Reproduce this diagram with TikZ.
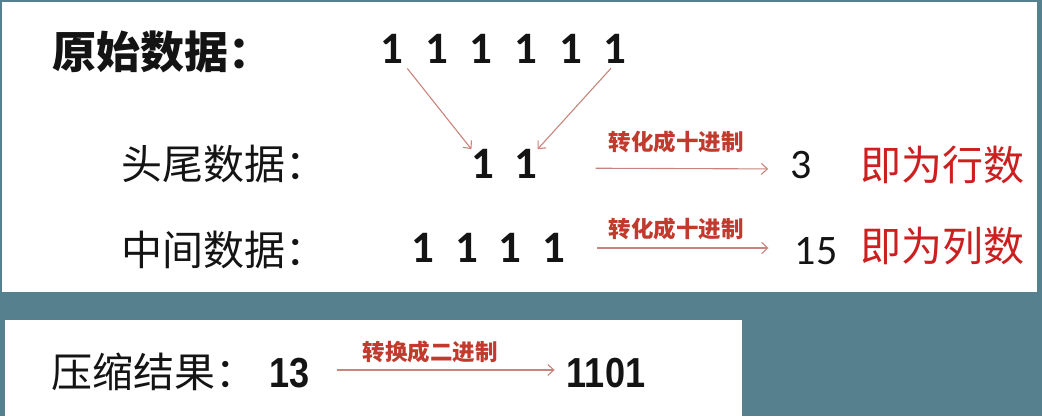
\documentclass[tikz,border=0pt]{standalone}
\usepackage{fontspec}
\setmainfont{Carlito}
\newfontfamily\cjk{Noto Sans CJK SC}
\newfontfamily\numfont[FakeStretch=0.86]{Liberation Sans}
\usetikzlibrary{arrows.meta}

\definecolor{slate}{HTML}{57808F}
\definecolor{arrowred}{HTML}{C8857C}
\definecolor{tagred}{HTML}{C23A2E}
\definecolor{notered}{HTML}{CC2020}

\begin{document}
\begin{tikzpicture}[x=1pt,y=-1pt]
      \tikzset{
        node distance=44.6pt,
        every node/.style={inner sep=0pt,text=black!92},
        heading/.style={anchor=west,font=\cjk\bfseries\fontsize{44}{44}\selectfont},
        title/.style={anchor=west,font=\cjk\fontsize{41}{41}\selectfont},
        note/.style={anchor=west,font=\cjk\fontsize{41}{41}\selectfont,text=notered},
        tag/.style={font=\cjk\bfseries\fontsize{22.5}{22.5}\selectfont,text=tagred},
        bit/.style={font=\bfseries\fontsize{45}{45}\selectfont},
        plain/.style={font=\fontsize{42}{42}\selectfont},
        num/.style={font=\numfont\bfseries\fontsize{42}{42}\selectfont},
        conv/.style={draw=arrowred,line width=1.1pt,-{Straight Barb[length=6pt,width=11pt]}}
      }

      \fill[slate] (0,0) rectangle (1042,416);
      \fill[white] (2,1.5) rectangle (1037,292);
      \fill[white] (5,320) rectangle (742,416);

      \node[heading] (orig) at (52,52) {原始数据：};
      \node[bit] (b1) at (392,49) {1};
      \node[bit,right of=b1] (b2) {1};
      \node[bit,right of=b2] (b3) {1};
      \node[bit,right of=b3] (b4) {1};
      \node[bit,right of=b4] (b5) {1};
      \node[bit,right of=b5] (b6) {1};

      \node[title] (head) at (121,164) {头尾数据：};
      \node[bit] (h1) at (483,164) {1};
      \node[bit,right of=h1,node distance=43pt] (h2) {1};
      \node[plain] (rows) at (801,165) {3};
      \node[note] (rowtxt) at (860,165) {即为行数};
      \node[tag] (t1) at (676,142) {转化成十进制};

      \node[title] (mid) at (121,250) {中间数据：};
      \node[bit] (m1) at (423,248) {1};
      \node[bit,right of=m1,node distance=43.5pt] (m2) {1};
      \node[bit,right of=m2,node distance=43.5pt] (m3) {1};
      \node[bit,right of=m3,node distance=43.5pt] (m4) {1};
      \node[plain] (cols) at (816,251) {15};
      \node[note] (coltxt) at (860,246) {即为列数};
      \node[tag] (t2) at (676,229) {转化成十进制};

      \node[title] (res) at (51,372) {压缩结果：};
      \node[num] (dec) at (290,373) {13};
      \node[num] (bin) at (606,373) {1101};
      \node[tag] (t3) at (430,352) {转换成二进制};

      \draw[conv,shorten <=6pt] (b1.south east) -- (h1.north west);
      \draw[conv,shorten <=6pt] (b6.south) -- (h2.north east);
      \draw[conv,shorten <=58pt,shorten >=22pt] ([yshift=-4pt]h2.east) -- ([yshift=-4pt]rows.west);
      \draw[conv,shorten <=32pt,shorten >=26pt] (m4.east) -- (m4.east -| cols.west);
      \draw[conv,shorten <=27pt,shorten >=12pt] ([yshift=3pt]dec.east) -- ([yshift=3pt]bin.west);
    \end{tikzpicture}
\end{document}
